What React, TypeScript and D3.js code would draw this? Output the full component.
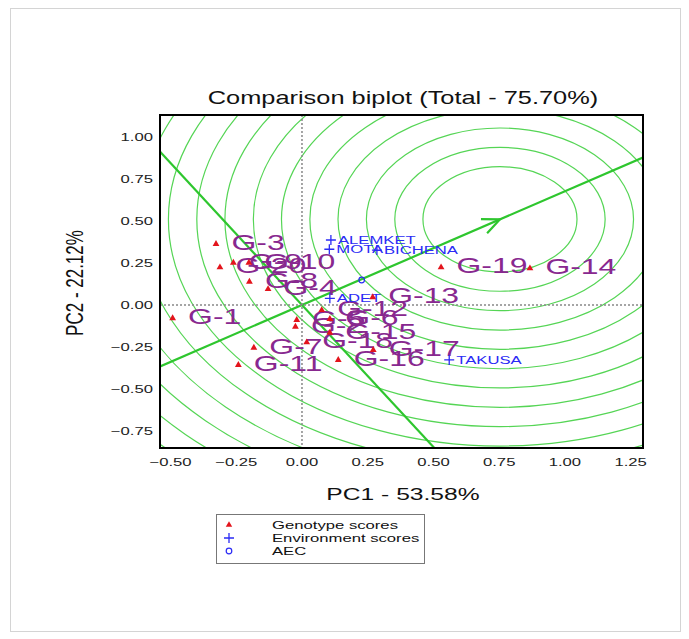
import React, { useEffect, useRef } from 'react';
import * as d3 from 'd3';

// genotype scores
const genotypes = ["G-1", "G-3", "G-20", "G-9", "G-10", "G-8", "G-4", "G-5", "G-2", "G-12",
  "G-6", "G-15", "G-18", "G-7", "G-11", "G-16", "G-17", "G-13", "G-19", "G-14"];
const genoPC1 = [-0.492, -0.327, -0.312, -0.261, -0.202, -0.200, -0.129, -0.020, -0.025, 0.075,
  0.106, 0.106, 0.018, -0.183, -0.242, 0.138, 0.271, 0.269, 0.529, 0.867];
const genoPC2 = [-0.079, 0.363, 0.224, 0.252, 0.252, 0.139, 0.095, -0.089, -0.129, -0.030,
  -0.083, -0.165, -0.222, -0.254, -0.357, -0.327, -0.268, 0.046, 0.224, 0.218];

// environment scores
const environments = ["ALEMKET", "MOTA", "BICHENA", "ADET", "TAKUSA"];
const envPC1 = [0.110, 0.104, 0.285, 0.106, 0.560];
const envPC2 = [0.387, 0.332, 0.327, 0.040, -0.327];

const aec = [0.227, 0.149];
const ideal = [0.753, 0.51];
const ringRadii = [0.293, 0.40, 0.508, 0.616, 0.723, 0.831, 0.938, 1.046, 1.153, 1.261,
  1.369, 1.476, 1.584, 1.692, 1.799, 1.907];
const yStretch = 1.07;

const xTicks = [-0.5, -0.25, 0, 0.25, 0.5, 0.75, 1, 1.25];
const yTicks = [-0.75, -0.5, -0.25, 0, 0.25, 0.5, 0.75, 1];

const title = "Comparison biplot (Total - 75.70%)";
const xTitle = "PC1 - 53.58%";
const yTitle = "PC2 - 22.12%";
const legendLabels = ["Genotype scores", "Environment scores", "AEC"];

const FONT = "'Liberation Sans', Arial, sans-serif";
const SX = 1.45; // the picture is stretched sideways

function Biplot() {
  const ref = useRef(null);

  useEffect(() => {
    const svg = d3.select(ref.current);
    svg.selectAll('*').remove();

    const x = d3.scaleLinear().domain([-0.54, 1.297]).range([160, 643]);
    const y = d3.scaleLinear().domain([-0.851, 1.131]).range([448, 115]);
    const fmt = d3.format(".2f");

    // outer frame
    svg.append('rect').attr('x', 10.5).attr('y', 8.5).attr('width', 670).attr('height', 623)
      .attr('fill', 'none').attr('stroke', '#d4d4d4');

    svg.append('defs').append('clipPath').attr('id', 'plotclip')
      .append('rect').attr('x', 160).attr('y', 115).attr('width', 483).attr('height', 333);

    const g = svg.append('g').attr('clip-path', 'url(#plotclip)');

    // concentric rings round the ideal genotype
    g.selectAll('.ring').data(ringRadii).enter().append('ellipse')
      .attr('cx', x(ideal[0])).attr('cy', y(ideal[1]))
      .attr('rx', d => x(d) - x(0))
      .attr('ry', d => y(0) - y(d * yStretch))
      .attr('fill', 'none').attr('stroke', '#55d555').attr('stroke-width', 1.2);

    // AEC abscissa and its perpendicular
    g.append('line')
      .attr('x1', x(-3 * ideal[0])).attr('y1', y(-3 * ideal[1]))
      .attr('x2', x(3 * ideal[0])).attr('y2', y(3 * ideal[1]))
      .attr('stroke', '#2ec62e').attr('stroke-width', 2.2);
    const px = -ideal[1] / yStretch, py = ideal[0] * yStretch;
    g.append('line')
      .attr('x1', x(-3 * px)).attr('y1', y(-3 * py))
      .attr('x2', x(3 * px)).attr('y2', y(3 * py))
      .attr('stroke', '#2ec62e').attr('stroke-width', 2.2);

    // arrow head at the ideal point
    const tx = x(ideal[0]), ty = y(ideal[1]);
    const ang = Math.atan2(ty - y(0), tx - x(0));
    const wing = (a) => [tx - 19 * Math.cos(ang + a), ty - 19 * Math.sin(ang + a)];
    const w1 = wing(0.42), w2 = wing(-0.42);
    g.append('path')
      .attr('d', `M${w1[0]},${w1[1]}L${tx},${ty}L${w2[0]},${w2[1]}`)
      .attr('fill', 'none').attr('stroke', '#2ec62e').attr('stroke-width', 2.2);

    // dotted zero lines
    g.append('line').attr('x1', x(0)).attr('x2', x(0)).attr('y1', 115).attr('y2', 448)
      .attr('stroke', '#888').attr('stroke-width', 1.5).attr('stroke-dasharray', '2,2');
    g.append('line').attr('x1', 160).attr('x2', 643).attr('y1', y(0)).attr('y2', y(0))
      .attr('stroke', '#888').attr('stroke-width', 1.5).attr('stroke-dasharray', '2,2');

    // genotype labels
    g.selectAll('.glab').data(genotypes).enter().append('text')
      .attr('transform', (d, i) => `translate(${x(genoPC1[i]) + 15.5},${y(genoPC2[i]) + 6}) scale(${SX},1)`)
      .attr('font-family', FONT).attr('font-size', 22).attr('fill', '#88288f')
      .text(d => d);

    // environment markers and labels
    g.selectAll('.eplus').data(environments).enter().append('path')
      .attr('d', (d, i) => {
        const ex = x(envPC1[i]), ey = y(envPC2[i]);
        return `M${ex - 5},${ey}H${ex + 5}M${ex},${ey - 5}V${ey + 5}`;
      })
      .attr('stroke', '#2b2bf5').attr('stroke-width', 1.3);
    g.selectAll('.elab').data(environments).enter().append('text')
      .attr('transform', (d, i) => `translate(${x(envPC1[i]) + 7},${y(envPC2[i]) + 4}) scale(${SX},1)`)
      .attr('font-family', FONT).attr('font-size', 11.5).attr('fill', '#2b2bf5')
      .text(d => d);

    // AEC marker
    g.append('circle').attr('cx', x(aec[0])).attr('cy', y(aec[1])).attr('r', 2.8)
      .attr('fill', 'none').attr('stroke', '#2b2bf5').attr('stroke-width', 1.2);

    // genotype triangles
    const tri = d3.symbol().type(d3.symbolTriangle).size(20);
    g.selectAll('.gpt').data(genotypes).enter().append('path')
      .attr('d', tri)
      .attr('transform', (d, i) => `translate(${x(genoPC1[i])},${y(genoPC2[i])})`)
      .attr('fill', '#e3141c');

    // plot border
    svg.append('rect').attr('x', 160).attr('y', 115).attr('width', 483).attr('height', 333)
      .attr('fill', 'none').attr('stroke', '#000').attr('stroke-width', 2);

    // tick labels
    svg.selectAll('.xt').data(xTicks).enter().append('text')
      .attr('transform', d => `translate(${x(d)},${466}) scale(${SX},1)`)
      .attr('text-anchor', 'middle').attr('font-family', FONT).attr('font-size', 11.5)
      .attr('fill', '#222').text(d => fmt(d));
    svg.selectAll('.yt').data(yTicks).enter().append('text')
      .attr('transform', d => `translate(${153},${y(d) + 4}) scale(${SX},1)`)
      .attr('text-anchor', 'end').attr('font-family', FONT).attr('font-size', 11.5)
      .attr('fill', '#222').text(d => fmt(d));

    // titles
    svg.append('text').attr('transform', `translate(403,104) scale(${SX},1)`)
      .attr('text-anchor', 'middle').attr('font-family', FONT).attr('font-size', 17.5)
      .attr('fill', '#111').text(title);
    svg.append('text').attr('transform', `translate(403,500) scale(${SX},1)`)
      .attr('text-anchor', 'middle').attr('font-family', FONT).attr('font-size', 17)
      .attr('fill', '#111').text(xTitle);
    svg.append('text').attr('transform', `translate(83,283) scale(${SX},1) rotate(-90)`)
      .attr('text-anchor', 'middle').attr('font-family', FONT).attr('font-size', 17)
      .attr('fill', '#111').text(yTitle);

    // legend
    const lg = svg.append('g');
    lg.append('rect').attr('x', 216.5).attr('y', 514.5).attr('width', 208).attr('height', 49)
      .attr('fill', '#fff').attr('stroke', '#777');
    const rows = [528, 541, 554];
    lg.append('path').attr('d', d3.symbol().type(d3.symbolTriangle).size(18))
      .attr('transform', `translate(229,${rows[0] - 3})`).attr('fill', '#e3141c');
    lg.append('path').attr('d', `M224,${rows[1] - 3}H234M229,${rows[1] - 8}V${rows[1] + 2}`)
      .attr('stroke', '#2b2bf5').attr('stroke-width', 1.3);
    lg.append('circle').attr('cx', 229).attr('cy', rows[2] - 3).attr('r', 2.8)
      .attr('fill', 'none').attr('stroke', '#2b2bf5').attr('stroke-width', 1.2);
    lg.selectAll('.lt').data(legendLabels).enter().append('text')
      .attr('transform', (d, i) => `translate(272,${rows[i] + 1}) scale(${SX},1)`)
      .attr('font-family', FONT).attr('font-size', 11.5).attr('fill', '#111')
      .text(d => d);
  }, []);

  return <svg ref={ref} width={689} height={639}
    style={{ position: 'absolute', left: 0, top: 0, background: '#fff' }} />;
}

export default function App() {
  return <Biplot />;
}
